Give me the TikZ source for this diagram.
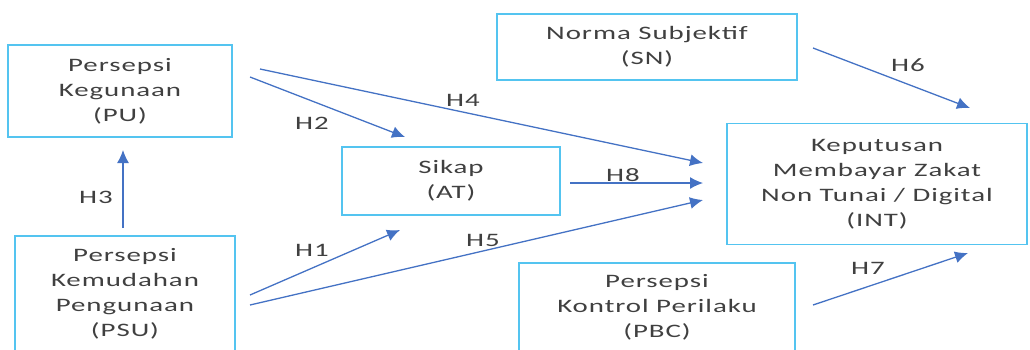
\documentclass[tikz,border=0pt]{standalone}
\usepackage{fontspec}
\setmainfont{Carlito}[FakeStretch=1.52,LetterSpace=5]
\usetikzlibrary{arrows.meta}

\definecolor{boxline}{RGB}{84,196,240}
\definecolor{arrowblue}{RGB}{68,114,196}
\definecolor{textgray}{RGB}{64,64,64}

\begin{document}
\begin{tikzpicture}[x=1pt,y=-1pt,every node/.style={text=textgray,font=\fontsize{19}{25}\selectfont}]

\tikzstyle{var}=[draw=boxline,line width=1.6pt,align=center,inner sep=0pt];
\tikzstyle{hyp}=[->,>={Latex[length=13pt,width=12pt]},draw=arrowblue,line width=1.3pt];
\tikzstyle{lbl}=[inner sep=1pt];

\useasboundingbox (0,0) rectangle (1030,349);
\clip (0,0) rectangle (1030,349);

% variables
\node[var,minimum width=224pt,minimum height=92pt] (pu) at (120,91) {Persepsi\\Kegunaan\\(PU)};
\node[var,minimum width=220pt,minimum height=116pt] (psu) at (125,294) {Persepsi\\Kemudahan\\Pengunaan\\(PSU)};
\node[var,minimum width=218pt,minimum height=68pt] (at) at (451,181) {Sikap\\(AT)};
\node[var,minimum width=300pt,minimum height=66pt] (sn) at (647,47) {Norma Subjektif\\(SN)};
\node[var,minimum width=276pt,minimum height=88pt] (pbc) at (657,307) {Persepsi\\Kontrol Perilaku\\(PBC)};
\node[var,minimum width=300pt,minimum height=121pt] (int) at (877,184) {Keputusan\\Membayar Zakat\\Non Tunai / Digital\\(INT)};

% loose ends of the paths
\coordinate (pu-a) at (250,77);
\coordinate (pu-b) at (260,69);
\coordinate (psu-a) at (250,295);
\coordinate (psu-b) at (250,305);
\coordinate (psu-c) at (123,228);
\coordinate (pu-c) at (123,150);
\coordinate (at-in1) at (405,137);
\coordinate (at-in2) at (400,230);
\coordinate (at-out) at (570,183);
\coordinate (int-in4) at (703,163);
\coordinate (int-in8) at (703,183);
\coordinate (int-in5) at (703,200);
\coordinate (sn-out) at (813,48);
\coordinate (int-in6) at (970,108);
\coordinate (pbc-out) at (813,305);
\coordinate (int-in7) at (968,253);

% hypotheses
\draw[hyp] (psu-c) -- (pu-c);
\draw[hyp] (pu-a) -- (at-in1);
\draw[hyp] (pu-b) -- (int-in4);
\draw[hyp] (psu-a) -- (at-in2);
\draw[hyp] (psu-b) -- (int-in5);
\draw[hyp] (at-out) -- (int-in8);
\draw[hyp] (sn-out) -- (int-in6);
\draw[hyp] (pbc-out) -- (int-in7);

\node[lbl] (h1) at (312,250) {H1};
\node[lbl] (h2) at (312,123) {H2};
\node[lbl] (h3) at (96,197) {H3};
\node[lbl] (h4) at (463,100) {H4};
\node[lbl] (h5) at (483,240) {H5};
\node[lbl] (h6) at (908,65) {H6};
\node[lbl] (h7) at (868,268) {H7};
\node[lbl] (h8) at (623,175) {H8};

\end{tikzpicture}
\end{document}
